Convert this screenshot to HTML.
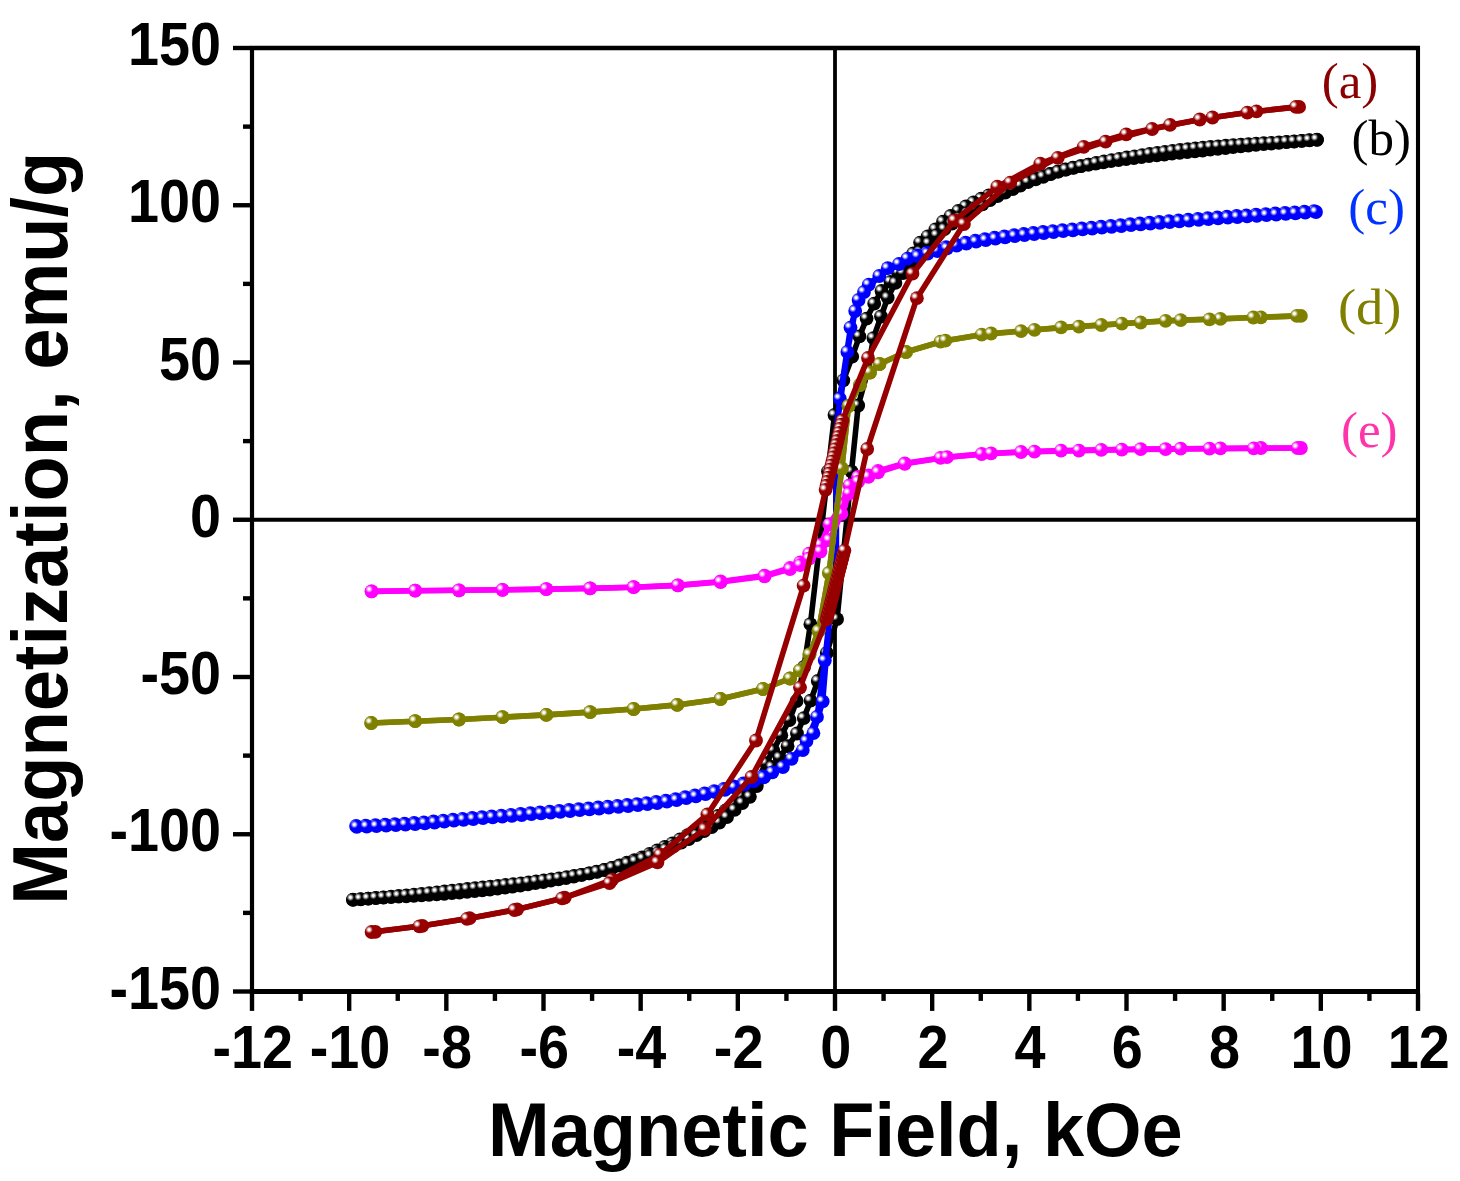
<!DOCTYPE html>
<html><head><meta charset="utf-8"><title>Magnetization</title>
<style>html,body{margin:0;padding:0;background:#fff}svg{display:block}</style></head>
<body>
<svg width="1460" height="1181" viewBox="0 0 1460 1181">
<defs>
<radialGradient id="gb" cx="0.32" cy="0.33" r="0.27"><stop offset="0" stop-color="#fff"/><stop offset="0.25" stop-color="#fff"/><stop offset="1" stop-color="#000000"/></radialGradient>
<circle id="mb" r="6.9" fill="url(#gb)"/>
<radialGradient id="gc" cx="0.32" cy="0.33" r="0.27"><stop offset="0" stop-color="#fff"/><stop offset="0.25" stop-color="#fff"/><stop offset="1" stop-color="#0000ff"/></radialGradient>
<circle id="mc" r="6.9" fill="url(#gc)"/>
<radialGradient id="gd" cx="0.32" cy="0.33" r="0.27"><stop offset="0" stop-color="#fff"/><stop offset="0.25" stop-color="#fff"/><stop offset="1" stop-color="#808000"/></radialGradient>
<circle id="md" r="6.9" fill="url(#gd)"/>
<radialGradient id="ge" cx="0.32" cy="0.33" r="0.27"><stop offset="0" stop-color="#fff"/><stop offset="0.25" stop-color="#fff"/><stop offset="1" stop-color="#ff00ff"/></radialGradient>
<circle id="me" r="6.9" fill="url(#ge)"/>
<radialGradient id="ga" cx="0.32" cy="0.33" r="0.27"><stop offset="0" stop-color="#fff"/><stop offset="0.25" stop-color="#fff"/><stop offset="1" stop-color="#960000"/></radialGradient>
<circle id="ma" r="6.9" fill="url(#ga)"/>
</defs>
<rect width="1460" height="1181" fill="#fff"/>
<g stroke="#000" stroke-width="3.8" fill="none">
<line x1="835.0" y1="48.0" x2="835.0" y2="991.5"/><line x1="252.0" y1="519.75" x2="1418.0" y2="519.75"/>
</g>
<g id="cb">
<polyline points="1317.1,139.8 1309.5,140.4 1301.8,140.9 1294.2,141.6 1286.6,142.2 1278.9,142.8 1271.3,143.5 1263.7,144.2 1256.0,144.9 1248.4,145.6 1240.8,146.4 1233.1,147.2 1225.5,148.0 1217.8,148.9 1210.2,149.7 1202.6,150.5 1194.9,151.3 1187.3,152.1 1179.7,152.9 1172.0,153.6 1164.4,154.5 1156.8,155.3 1149.1,156.2 1141.5,157.1 1133.9,158.1 1126.2,159.1 1118.6,160.1 1111.0,161.2 1103.3,162.3 1095.7,163.5 1088.1,164.7 1080.4,166.1 1072.8,167.6 1065.2,169.5 1057.5,171.7 1049.9,173.8 1042.3,175.9 1034.6,178.2 1027.0,180.7 1019.4,183.5 1011.7,186.4 1004.1,189.4 996.4,192.4 988.8,195.4 981.2,198.7 973.5,202.3 965.9,206.4 958.3,210.9 950.6,215.9 943.0,221.7 935.4,229.3 927.7,236.3 920.1,242.6 913.2,253.5 905.6,263.0 898.0,272.5 890.4,281.8 881.5,291.0 874.2,303.7 866.6,318.6 859.4,336.4 852.2,356.7 843.3,380.4 834.5,415.0 828.0,471.5 810.4,624.2 804.0,667.0 796.6,701.0 789.5,720.0 781.3,735.2 773.2,750.5 766.0,763.2 757.8,779.0 750.0,787.5 741.2,796.1 733.2,804.2 725.6,810.4 718.0,816.0 710.4,821.3 702.8,826.2 695.2,830.8 687.6,835.2 680.0,839.4 672.4,843.3 664.8,846.9 657.2,850.5 649.6,853.9 642.0,857.3 634.4,860.2 626.8,862.7 619.2,865.3 611.6,867.9 604.0,869.9 596.4,871.6 588.8,873.3 581.2,874.9 573.6,876.5 566.0,878.0 558.4,879.4 550.8,880.7 543.2,882.0 535.5,883.2 527.9,884.4 520.3,885.5 512.7,886.6 505.1,887.6 497.5,888.6 489.9,889.5 482.3,890.3 474.7,891.1 467.1,891.9 459.5,892.6 451.9,893.2 444.3,893.8 436.7,894.4 429.1,894.9 421.5,895.4 413.9,895.9 406.3,896.3 398.7,896.7 391.1,897.1 383.5,897.6 375.9,898.1 368.3,898.7 360.7,899.3 353.1,899.9" fill="none" stroke="#000000" stroke-width="5.6" stroke-linejoin="round" stroke-linecap="round"/>
<polyline points="352.9,899.7 360.5,899.1 368.2,898.6 375.8,897.9 383.4,897.3 391.1,896.7 398.7,896.0 406.3,895.3 414.0,894.6 421.6,893.9 429.2,893.1 436.9,892.3 444.5,891.5 452.1,890.6 459.8,889.8 467.4,889.0 475.1,888.2 482.7,887.4 490.3,886.6 498.0,885.9 505.6,885.0 513.2,884.2 520.9,883.3 528.5,882.4 536.1,881.4 543.8,880.4 551.4,879.4 559.0,878.3 566.7,877.2 574.3,876.0 581.9,874.8 589.6,873.4 597.2,871.9 604.8,870.0 612.5,867.8 620.1,865.7 627.7,863.6 635.4,861.3 643.0,858.7 650.6,855.9 658.3,852.8 665.9,849.5 673.6,846.2 681.2,842.7 688.8,839.1 696.5,835.2 704.1,831.2 711.7,827.1 719.4,822.5 727.0,817.2 734.6,809.9 742.3,803.0 749.9,796.8 756.8,786.0 764.4,776.5 772.0,767.0 779.6,757.7 787.6,746.2 797.0,733.5 803.8,718.1 810.6,700.7 817.8,681.0 826.8,653.0 837.1,619.1 851.5,471.5 858.2,405.5 867.8,371.0 873.4,338.1 881.0,316.5 887.7,297.7 895.4,282.9 903.0,273.0 911.5,262.0 920.0,252.0 928.8,243.4 936.8,235.3 944.4,229.1 952.0,223.5 959.6,218.2 967.2,213.3 974.8,208.7 982.4,204.3 990.0,200.1 997.6,196.2 1005.2,192.6 1012.8,189.0 1020.4,185.6 1028.0,182.2 1035.6,179.3 1043.2,176.8 1050.8,174.2 1058.4,171.6 1066.0,169.6 1073.6,167.9 1081.2,166.2 1088.8,164.6 1096.4,163.0 1104.0,161.5 1111.6,160.1 1119.2,158.8 1126.8,157.5 1134.5,156.3 1142.1,155.1 1149.7,154.0 1157.3,152.9 1164.9,151.9 1172.5,150.9 1180.1,150.0 1187.7,149.2 1195.3,148.4 1202.9,147.6 1210.5,146.9 1218.1,146.3 1225.7,145.7 1233.3,145.1 1240.9,144.6 1248.5,144.1 1256.1,143.6 1263.7,143.2 1271.3,142.8 1278.9,142.4 1286.5,141.9 1294.1,141.4 1301.7,140.8 1309.3,140.2 1316.9,139.6" fill="none" stroke="#000000" stroke-width="5.6" stroke-linejoin="round" stroke-linecap="round"/>
<use href="#mb" x="1317.1" y="139.8"/>
<use href="#mb" x="1309.5" y="140.4"/>
<use href="#mb" x="1301.8" y="140.9"/>
<use href="#mb" x="1294.2" y="141.6"/>
<use href="#mb" x="1286.6" y="142.2"/>
<use href="#mb" x="1278.9" y="142.8"/>
<use href="#mb" x="1271.3" y="143.5"/>
<use href="#mb" x="1263.7" y="144.2"/>
<use href="#mb" x="1256.0" y="144.9"/>
<use href="#mb" x="1248.4" y="145.6"/>
<use href="#mb" x="1240.8" y="146.4"/>
<use href="#mb" x="1233.1" y="147.2"/>
<use href="#mb" x="1225.5" y="148.0"/>
<use href="#mb" x="1217.8" y="148.9"/>
<use href="#mb" x="1210.2" y="149.7"/>
<use href="#mb" x="1202.6" y="150.5"/>
<use href="#mb" x="1194.9" y="151.3"/>
<use href="#mb" x="1187.3" y="152.1"/>
<use href="#mb" x="1179.7" y="152.9"/>
<use href="#mb" x="1172.0" y="153.6"/>
<use href="#mb" x="1164.4" y="154.5"/>
<use href="#mb" x="1156.8" y="155.3"/>
<use href="#mb" x="1149.1" y="156.2"/>
<use href="#mb" x="1141.5" y="157.1"/>
<use href="#mb" x="1133.9" y="158.1"/>
<use href="#mb" x="1126.2" y="159.1"/>
<use href="#mb" x="1118.6" y="160.1"/>
<use href="#mb" x="1111.0" y="161.2"/>
<use href="#mb" x="1103.3" y="162.3"/>
<use href="#mb" x="1095.7" y="163.5"/>
<use href="#mb" x="1088.1" y="164.7"/>
<use href="#mb" x="1080.4" y="166.1"/>
<use href="#mb" x="1072.8" y="167.6"/>
<use href="#mb" x="1065.2" y="169.5"/>
<use href="#mb" x="1057.5" y="171.7"/>
<use href="#mb" x="1049.9" y="173.8"/>
<use href="#mb" x="1042.3" y="175.9"/>
<use href="#mb" x="1034.6" y="178.2"/>
<use href="#mb" x="1027.0" y="180.7"/>
<use href="#mb" x="1019.4" y="183.5"/>
<use href="#mb" x="1011.7" y="186.4"/>
<use href="#mb" x="1004.1" y="189.4"/>
<use href="#mb" x="996.4" y="192.4"/>
<use href="#mb" x="988.8" y="195.4"/>
<use href="#mb" x="981.2" y="198.7"/>
<use href="#mb" x="973.5" y="202.3"/>
<use href="#mb" x="965.9" y="206.4"/>
<use href="#mb" x="958.3" y="210.9"/>
<use href="#mb" x="950.6" y="215.9"/>
<use href="#mb" x="943.0" y="221.7"/>
<use href="#mb" x="935.4" y="229.3"/>
<use href="#mb" x="927.7" y="236.3"/>
<use href="#mb" x="920.1" y="242.6"/>
<use href="#mb" x="913.2" y="253.5"/>
<use href="#mb" x="905.6" y="263.0"/>
<use href="#mb" x="898.0" y="272.5"/>
<use href="#mb" x="890.4" y="281.8"/>
<use href="#mb" x="881.5" y="291.0"/>
<use href="#mb" x="874.2" y="303.7"/>
<use href="#mb" x="866.6" y="318.6"/>
<use href="#mb" x="859.4" y="336.4"/>
<use href="#mb" x="852.2" y="356.7"/>
<use href="#mb" x="843.3" y="380.4"/>
<use href="#mb" x="834.5" y="415.0"/>
<use href="#mb" x="828.0" y="471.5"/>
<use href="#mb" x="810.4" y="624.2"/>
<use href="#mb" x="804.0" y="667.0"/>
<use href="#mb" x="796.6" y="701.0"/>
<use href="#mb" x="789.5" y="720.0"/>
<use href="#mb" x="781.3" y="735.2"/>
<use href="#mb" x="773.2" y="750.5"/>
<use href="#mb" x="766.0" y="763.2"/>
<use href="#mb" x="757.8" y="779.0"/>
<use href="#mb" x="750.0" y="787.5"/>
<use href="#mb" x="741.2" y="796.1"/>
<use href="#mb" x="733.2" y="804.2"/>
<use href="#mb" x="725.6" y="810.4"/>
<use href="#mb" x="718.0" y="816.0"/>
<use href="#mb" x="710.4" y="821.3"/>
<use href="#mb" x="702.8" y="826.2"/>
<use href="#mb" x="695.2" y="830.8"/>
<use href="#mb" x="687.6" y="835.2"/>
<use href="#mb" x="680.0" y="839.4"/>
<use href="#mb" x="672.4" y="843.3"/>
<use href="#mb" x="664.8" y="846.9"/>
<use href="#mb" x="657.2" y="850.5"/>
<use href="#mb" x="649.6" y="853.9"/>
<use href="#mb" x="642.0" y="857.3"/>
<use href="#mb" x="634.4" y="860.2"/>
<use href="#mb" x="626.8" y="862.7"/>
<use href="#mb" x="619.2" y="865.3"/>
<use href="#mb" x="611.6" y="867.9"/>
<use href="#mb" x="604.0" y="869.9"/>
<use href="#mb" x="596.4" y="871.6"/>
<use href="#mb" x="588.8" y="873.3"/>
<use href="#mb" x="581.2" y="874.9"/>
<use href="#mb" x="573.6" y="876.5"/>
<use href="#mb" x="566.0" y="878.0"/>
<use href="#mb" x="558.4" y="879.4"/>
<use href="#mb" x="550.8" y="880.7"/>
<use href="#mb" x="543.2" y="882.0"/>
<use href="#mb" x="535.5" y="883.2"/>
<use href="#mb" x="527.9" y="884.4"/>
<use href="#mb" x="520.3" y="885.5"/>
<use href="#mb" x="512.7" y="886.6"/>
<use href="#mb" x="505.1" y="887.6"/>
<use href="#mb" x="497.5" y="888.6"/>
<use href="#mb" x="489.9" y="889.5"/>
<use href="#mb" x="482.3" y="890.3"/>
<use href="#mb" x="474.7" y="891.1"/>
<use href="#mb" x="467.1" y="891.9"/>
<use href="#mb" x="459.5" y="892.6"/>
<use href="#mb" x="451.9" y="893.2"/>
<use href="#mb" x="444.3" y="893.8"/>
<use href="#mb" x="436.7" y="894.4"/>
<use href="#mb" x="429.1" y="894.9"/>
<use href="#mb" x="421.5" y="895.4"/>
<use href="#mb" x="413.9" y="895.9"/>
<use href="#mb" x="406.3" y="896.3"/>
<use href="#mb" x="398.7" y="896.7"/>
<use href="#mb" x="391.1" y="897.1"/>
<use href="#mb" x="383.5" y="897.6"/>
<use href="#mb" x="375.9" y="898.1"/>
<use href="#mb" x="368.3" y="898.7"/>
<use href="#mb" x="360.7" y="899.3"/>
<use href="#mb" x="353.1" y="899.9"/>
<use href="#mb" x="352.9" y="899.7"/>
<use href="#mb" x="360.5" y="899.1"/>
<use href="#mb" x="368.2" y="898.6"/>
<use href="#mb" x="375.8" y="897.9"/>
<use href="#mb" x="383.4" y="897.3"/>
<use href="#mb" x="391.1" y="896.7"/>
<use href="#mb" x="398.7" y="896.0"/>
<use href="#mb" x="406.3" y="895.3"/>
<use href="#mb" x="414.0" y="894.6"/>
<use href="#mb" x="421.6" y="893.9"/>
<use href="#mb" x="429.2" y="893.1"/>
<use href="#mb" x="436.9" y="892.3"/>
<use href="#mb" x="444.5" y="891.5"/>
<use href="#mb" x="452.1" y="890.6"/>
<use href="#mb" x="459.8" y="889.8"/>
<use href="#mb" x="467.4" y="889.0"/>
<use href="#mb" x="475.1" y="888.2"/>
<use href="#mb" x="482.7" y="887.4"/>
<use href="#mb" x="490.3" y="886.6"/>
<use href="#mb" x="498.0" y="885.9"/>
<use href="#mb" x="505.6" y="885.0"/>
<use href="#mb" x="513.2" y="884.2"/>
<use href="#mb" x="520.9" y="883.3"/>
<use href="#mb" x="528.5" y="882.4"/>
<use href="#mb" x="536.1" y="881.4"/>
<use href="#mb" x="543.8" y="880.4"/>
<use href="#mb" x="551.4" y="879.4"/>
<use href="#mb" x="559.0" y="878.3"/>
<use href="#mb" x="566.7" y="877.2"/>
<use href="#mb" x="574.3" y="876.0"/>
<use href="#mb" x="581.9" y="874.8"/>
<use href="#mb" x="589.6" y="873.4"/>
<use href="#mb" x="597.2" y="871.9"/>
<use href="#mb" x="604.8" y="870.0"/>
<use href="#mb" x="612.5" y="867.8"/>
<use href="#mb" x="620.1" y="865.7"/>
<use href="#mb" x="627.7" y="863.6"/>
<use href="#mb" x="635.4" y="861.3"/>
<use href="#mb" x="643.0" y="858.7"/>
<use href="#mb" x="650.6" y="855.9"/>
<use href="#mb" x="658.3" y="852.8"/>
<use href="#mb" x="665.9" y="849.5"/>
<use href="#mb" x="673.6" y="846.2"/>
<use href="#mb" x="681.2" y="842.7"/>
<use href="#mb" x="688.8" y="839.1"/>
<use href="#mb" x="696.5" y="835.2"/>
<use href="#mb" x="704.1" y="831.2"/>
<use href="#mb" x="711.7" y="827.1"/>
<use href="#mb" x="719.4" y="822.5"/>
<use href="#mb" x="727.0" y="817.2"/>
<use href="#mb" x="734.6" y="809.9"/>
<use href="#mb" x="742.3" y="803.0"/>
<use href="#mb" x="749.9" y="796.8"/>
<use href="#mb" x="756.8" y="786.0"/>
<use href="#mb" x="764.4" y="776.5"/>
<use href="#mb" x="772.0" y="767.0"/>
<use href="#mb" x="779.6" y="757.7"/>
<use href="#mb" x="787.6" y="746.2"/>
<use href="#mb" x="797.0" y="733.5"/>
<use href="#mb" x="803.8" y="718.1"/>
<use href="#mb" x="810.6" y="700.7"/>
<use href="#mb" x="817.8" y="681.0"/>
<use href="#mb" x="826.8" y="653.0"/>
<use href="#mb" x="837.1" y="619.1"/>
<use href="#mb" x="851.5" y="471.5"/>
<use href="#mb" x="858.2" y="405.5"/>
<use href="#mb" x="867.8" y="371.0"/>
<use href="#mb" x="873.4" y="338.1"/>
<use href="#mb" x="881.0" y="316.5"/>
<use href="#mb" x="887.7" y="297.7"/>
<use href="#mb" x="895.4" y="282.9"/>
<use href="#mb" x="903.0" y="273.0"/>
<use href="#mb" x="911.5" y="262.0"/>
<use href="#mb" x="920.0" y="252.0"/>
<use href="#mb" x="928.8" y="243.4"/>
<use href="#mb" x="936.8" y="235.3"/>
<use href="#mb" x="944.4" y="229.1"/>
<use href="#mb" x="952.0" y="223.5"/>
<use href="#mb" x="959.6" y="218.2"/>
<use href="#mb" x="967.2" y="213.3"/>
<use href="#mb" x="974.8" y="208.7"/>
<use href="#mb" x="982.4" y="204.3"/>
<use href="#mb" x="990.0" y="200.1"/>
<use href="#mb" x="997.6" y="196.2"/>
<use href="#mb" x="1005.2" y="192.6"/>
<use href="#mb" x="1012.8" y="189.0"/>
<use href="#mb" x="1020.4" y="185.6"/>
<use href="#mb" x="1028.0" y="182.2"/>
<use href="#mb" x="1035.6" y="179.3"/>
<use href="#mb" x="1043.2" y="176.8"/>
<use href="#mb" x="1050.8" y="174.2"/>
<use href="#mb" x="1058.4" y="171.6"/>
<use href="#mb" x="1066.0" y="169.6"/>
<use href="#mb" x="1073.6" y="167.9"/>
<use href="#mb" x="1081.2" y="166.2"/>
<use href="#mb" x="1088.8" y="164.6"/>
<use href="#mb" x="1096.4" y="163.0"/>
<use href="#mb" x="1104.0" y="161.5"/>
<use href="#mb" x="1111.6" y="160.1"/>
<use href="#mb" x="1119.2" y="158.8"/>
<use href="#mb" x="1126.8" y="157.5"/>
<use href="#mb" x="1134.5" y="156.3"/>
<use href="#mb" x="1142.1" y="155.1"/>
<use href="#mb" x="1149.7" y="154.0"/>
<use href="#mb" x="1157.3" y="152.9"/>
<use href="#mb" x="1164.9" y="151.9"/>
<use href="#mb" x="1172.5" y="150.9"/>
<use href="#mb" x="1180.1" y="150.0"/>
<use href="#mb" x="1187.7" y="149.2"/>
<use href="#mb" x="1195.3" y="148.4"/>
<use href="#mb" x="1202.9" y="147.6"/>
<use href="#mb" x="1210.5" y="146.9"/>
<use href="#mb" x="1218.1" y="146.3"/>
<use href="#mb" x="1225.7" y="145.7"/>
<use href="#mb" x="1233.3" y="145.1"/>
<use href="#mb" x="1240.9" y="144.6"/>
<use href="#mb" x="1248.5" y="144.1"/>
<use href="#mb" x="1256.1" y="143.6"/>
<use href="#mb" x="1263.7" y="143.2"/>
<use href="#mb" x="1271.3" y="142.8"/>
<use href="#mb" x="1278.9" y="142.4"/>
<use href="#mb" x="1286.5" y="141.9"/>
<use href="#mb" x="1294.1" y="141.4"/>
<use href="#mb" x="1301.7" y="140.8"/>
<use href="#mb" x="1309.3" y="140.2"/>
<use href="#mb" x="1316.9" y="139.6"/>
</g>
<g id="cc">
<polyline points="1314.1,211.1 1304.4,211.7 1294.7,212.3 1285.0,212.9 1275.3,213.5 1265.7,214.1 1256.0,214.7 1246.3,215.4 1236.6,216.0 1226.9,216.7 1217.3,217.4 1207.6,218.1 1197.9,218.8 1188.2,219.6 1178.5,220.3 1168.9,221.1 1159.2,221.8 1149.5,222.6 1139.8,223.4 1130.1,224.2 1120.5,225.1 1110.8,225.9 1101.1,226.7 1091.4,227.6 1081.7,228.4 1072.1,229.3 1062.4,230.2 1052.7,231.1 1043.0,232.0 1033.3,232.9 1023.7,233.9 1014.0,235.1 1004.3,236.3 994.6,237.7 984.9,239.1 975.3,240.7 965.6,242.6 955.9,244.7 946.2,247.2 936.5,249.9 926.9,252.6 917.2,255.3 907.5,258.6 887.8,268.2 868.8,284.7 858.6,300.0 850.5,327.6 839.8,398.7 836.3,430.0 836.3,585.0 829.5,618.0 824.8,660.5 817.0,716.9 806.5,741.0 791.6,758.8 772.3,772.3 762.6,776.4 752.9,780.1 743.3,783.5 733.6,786.5 723.9,788.9 714.2,791.1 704.5,793.3 694.9,795.3 685.2,797.2 675.5,799.1 665.8,800.7 656.1,802.0 646.5,803.1 636.8,804.1 627.1,805.0 617.4,805.8 607.7,806.6 598.1,807.5 588.4,808.4 578.7,809.2 569.0,810.0 559.3,810.9 549.7,811.7 540.0,812.4 530.3,813.2 520.6,814.0 510.9,814.8 501.3,815.6 491.6,816.4 481.9,817.2 472.2,818.0 462.5,818.8 452.9,819.7 443.2,820.6 433.5,821.5 423.8,822.3 414.1,823.0 404.5,823.6 394.8,824.2 385.1,824.7 375.4,825.2 365.7,825.6 356.1,825.9" fill="none" stroke="#0000ff" stroke-width="5.6" stroke-linejoin="round" stroke-linecap="round"/>
<polyline points="356.8,826.9 366.8,826.6 376.5,826.2 386.2,825.7 395.9,825.2 405.5,824.6 415.2,824.0 424.9,823.3 434.6,822.5 444.3,821.6 453.9,820.7 463.6,819.8 473.3,819.0 483.0,818.2 492.7,817.4 502.3,816.6 512.0,815.8 521.7,815.0 531.4,814.2 541.1,813.4 550.7,812.6 560.4,811.8 570.1,811.0 579.8,810.2 589.5,809.4 599.1,808.5 608.8,807.6 618.5,806.8 628.2,806.0 637.9,805.0 647.5,804.1 657.2,803.0 666.9,801.7 676.6,800.1 686.3,798.2 695.9,796.3 705.6,794.2 715.3,792.1 725.0,789.9 734.7,787.5 744.3,784.5 754.0,781.1 763.7,777.4 782.9,767.0 802.8,750.1 813.4,733.2 822.7,701.4 829.5,618.0 836.3,585.0 836.3,430.0 847.4,351.9 855.2,311.0 864.0,292.0 879.3,276.0 899.0,264.0 918.0,256.4 927.7,253.6 937.4,251.0 947.0,248.3 956.7,245.7 966.4,243.6 976.1,241.7 985.8,240.1 995.4,238.7 1005.1,237.3 1014.8,236.1 1024.5,235.0 1034.2,234.0 1043.8,233.0 1053.5,232.1 1063.2,231.2 1072.9,230.3 1082.6,229.4 1092.2,228.6 1101.9,227.7 1111.6,226.9 1121.3,226.1 1131.0,225.2 1140.6,224.4 1150.3,223.6 1160.0,222.8 1169.7,222.1 1179.4,221.3 1189.0,220.6 1198.7,219.8 1208.4,219.1 1218.1,218.4 1227.8,217.7 1237.4,217.0 1247.1,216.4 1256.8,215.8 1266.5,215.1 1276.2,214.5 1285.8,213.9 1295.5,213.3 1305.2,212.7 1316.0,212.0" fill="none" stroke="#0000ff" stroke-width="5.6" stroke-linejoin="round" stroke-linecap="round"/>
<use href="#mc" x="1314.1" y="211.1"/>
<use href="#mc" x="1304.4" y="211.7"/>
<use href="#mc" x="1294.7" y="212.3"/>
<use href="#mc" x="1285.0" y="212.9"/>
<use href="#mc" x="1275.3" y="213.5"/>
<use href="#mc" x="1265.7" y="214.1"/>
<use href="#mc" x="1256.0" y="214.7"/>
<use href="#mc" x="1246.3" y="215.4"/>
<use href="#mc" x="1236.6" y="216.0"/>
<use href="#mc" x="1226.9" y="216.7"/>
<use href="#mc" x="1217.3" y="217.4"/>
<use href="#mc" x="1207.6" y="218.1"/>
<use href="#mc" x="1197.9" y="218.8"/>
<use href="#mc" x="1188.2" y="219.6"/>
<use href="#mc" x="1178.5" y="220.3"/>
<use href="#mc" x="1168.9" y="221.1"/>
<use href="#mc" x="1159.2" y="221.8"/>
<use href="#mc" x="1149.5" y="222.6"/>
<use href="#mc" x="1139.8" y="223.4"/>
<use href="#mc" x="1130.1" y="224.2"/>
<use href="#mc" x="1120.5" y="225.1"/>
<use href="#mc" x="1110.8" y="225.9"/>
<use href="#mc" x="1101.1" y="226.7"/>
<use href="#mc" x="1091.4" y="227.6"/>
<use href="#mc" x="1081.7" y="228.4"/>
<use href="#mc" x="1072.1" y="229.3"/>
<use href="#mc" x="1062.4" y="230.2"/>
<use href="#mc" x="1052.7" y="231.1"/>
<use href="#mc" x="1043.0" y="232.0"/>
<use href="#mc" x="1033.3" y="232.9"/>
<use href="#mc" x="1023.7" y="233.9"/>
<use href="#mc" x="1014.0" y="235.1"/>
<use href="#mc" x="1004.3" y="236.3"/>
<use href="#mc" x="994.6" y="237.7"/>
<use href="#mc" x="984.9" y="239.1"/>
<use href="#mc" x="975.3" y="240.7"/>
<use href="#mc" x="965.6" y="242.6"/>
<use href="#mc" x="955.9" y="244.7"/>
<use href="#mc" x="946.2" y="247.2"/>
<use href="#mc" x="936.5" y="249.9"/>
<use href="#mc" x="926.9" y="252.6"/>
<use href="#mc" x="917.2" y="255.3"/>
<use href="#mc" x="907.5" y="258.6"/>
<use href="#mc" x="887.8" y="268.2"/>
<use href="#mc" x="868.8" y="284.7"/>
<use href="#mc" x="858.6" y="300.0"/>
<use href="#mc" x="850.5" y="327.6"/>
<use href="#mc" x="839.8" y="398.7"/>
<use href="#mc" x="824.8" y="660.5"/>
<use href="#mc" x="817.0" y="716.9"/>
<use href="#mc" x="806.5" y="741.0"/>
<use href="#mc" x="791.6" y="758.8"/>
<use href="#mc" x="772.3" y="772.3"/>
<use href="#mc" x="762.6" y="776.4"/>
<use href="#mc" x="752.9" y="780.1"/>
<use href="#mc" x="743.3" y="783.5"/>
<use href="#mc" x="733.6" y="786.5"/>
<use href="#mc" x="723.9" y="788.9"/>
<use href="#mc" x="714.2" y="791.1"/>
<use href="#mc" x="704.5" y="793.3"/>
<use href="#mc" x="694.9" y="795.3"/>
<use href="#mc" x="685.2" y="797.2"/>
<use href="#mc" x="675.5" y="799.1"/>
<use href="#mc" x="665.8" y="800.7"/>
<use href="#mc" x="656.1" y="802.0"/>
<use href="#mc" x="646.5" y="803.1"/>
<use href="#mc" x="636.8" y="804.1"/>
<use href="#mc" x="627.1" y="805.0"/>
<use href="#mc" x="617.4" y="805.8"/>
<use href="#mc" x="607.7" y="806.6"/>
<use href="#mc" x="598.1" y="807.5"/>
<use href="#mc" x="588.4" y="808.4"/>
<use href="#mc" x="578.7" y="809.2"/>
<use href="#mc" x="569.0" y="810.0"/>
<use href="#mc" x="559.3" y="810.9"/>
<use href="#mc" x="549.7" y="811.7"/>
<use href="#mc" x="540.0" y="812.4"/>
<use href="#mc" x="530.3" y="813.2"/>
<use href="#mc" x="520.6" y="814.0"/>
<use href="#mc" x="510.9" y="814.8"/>
<use href="#mc" x="501.3" y="815.6"/>
<use href="#mc" x="491.6" y="816.4"/>
<use href="#mc" x="481.9" y="817.2"/>
<use href="#mc" x="472.2" y="818.0"/>
<use href="#mc" x="462.5" y="818.8"/>
<use href="#mc" x="452.9" y="819.7"/>
<use href="#mc" x="443.2" y="820.6"/>
<use href="#mc" x="433.5" y="821.5"/>
<use href="#mc" x="423.8" y="822.3"/>
<use href="#mc" x="414.1" y="823.0"/>
<use href="#mc" x="404.5" y="823.6"/>
<use href="#mc" x="394.8" y="824.2"/>
<use href="#mc" x="385.1" y="824.7"/>
<use href="#mc" x="375.4" y="825.2"/>
<use href="#mc" x="365.7" y="825.6"/>
<use href="#mc" x="356.1" y="825.9"/>
<use href="#mc" x="356.8" y="826.9"/>
<use href="#mc" x="366.8" y="826.6"/>
<use href="#mc" x="376.5" y="826.2"/>
<use href="#mc" x="386.2" y="825.7"/>
<use href="#mc" x="395.9" y="825.2"/>
<use href="#mc" x="405.5" y="824.6"/>
<use href="#mc" x="415.2" y="824.0"/>
<use href="#mc" x="424.9" y="823.3"/>
<use href="#mc" x="434.6" y="822.5"/>
<use href="#mc" x="444.3" y="821.6"/>
<use href="#mc" x="453.9" y="820.7"/>
<use href="#mc" x="463.6" y="819.8"/>
<use href="#mc" x="473.3" y="819.0"/>
<use href="#mc" x="483.0" y="818.2"/>
<use href="#mc" x="492.7" y="817.4"/>
<use href="#mc" x="502.3" y="816.6"/>
<use href="#mc" x="512.0" y="815.8"/>
<use href="#mc" x="521.7" y="815.0"/>
<use href="#mc" x="531.4" y="814.2"/>
<use href="#mc" x="541.1" y="813.4"/>
<use href="#mc" x="550.7" y="812.6"/>
<use href="#mc" x="560.4" y="811.8"/>
<use href="#mc" x="570.1" y="811.0"/>
<use href="#mc" x="579.8" y="810.2"/>
<use href="#mc" x="589.5" y="809.4"/>
<use href="#mc" x="599.1" y="808.5"/>
<use href="#mc" x="608.8" y="807.6"/>
<use href="#mc" x="618.5" y="806.8"/>
<use href="#mc" x="628.2" y="806.0"/>
<use href="#mc" x="637.9" y="805.0"/>
<use href="#mc" x="647.5" y="804.1"/>
<use href="#mc" x="657.2" y="803.0"/>
<use href="#mc" x="666.9" y="801.7"/>
<use href="#mc" x="676.6" y="800.1"/>
<use href="#mc" x="686.3" y="798.2"/>
<use href="#mc" x="695.9" y="796.3"/>
<use href="#mc" x="705.6" y="794.2"/>
<use href="#mc" x="715.3" y="792.1"/>
<use href="#mc" x="725.0" y="789.9"/>
<use href="#mc" x="734.7" y="787.5"/>
<use href="#mc" x="744.3" y="784.5"/>
<use href="#mc" x="754.0" y="781.1"/>
<use href="#mc" x="763.7" y="777.4"/>
<use href="#mc" x="782.9" y="767.0"/>
<use href="#mc" x="802.8" y="750.1"/>
<use href="#mc" x="813.4" y="733.2"/>
<use href="#mc" x="822.7" y="701.4"/>
<use href="#mc" x="847.4" y="351.9"/>
<use href="#mc" x="855.2" y="311.0"/>
<use href="#mc" x="864.0" y="292.0"/>
<use href="#mc" x="879.3" y="276.0"/>
<use href="#mc" x="899.0" y="264.0"/>
<use href="#mc" x="918.0" y="256.4"/>
<use href="#mc" x="927.7" y="253.6"/>
<use href="#mc" x="937.4" y="251.0"/>
<use href="#mc" x="947.0" y="248.3"/>
<use href="#mc" x="956.7" y="245.7"/>
<use href="#mc" x="966.4" y="243.6"/>
<use href="#mc" x="976.1" y="241.7"/>
<use href="#mc" x="985.8" y="240.1"/>
<use href="#mc" x="995.4" y="238.7"/>
<use href="#mc" x="1005.1" y="237.3"/>
<use href="#mc" x="1014.8" y="236.1"/>
<use href="#mc" x="1024.5" y="235.0"/>
<use href="#mc" x="1034.2" y="234.0"/>
<use href="#mc" x="1043.8" y="233.0"/>
<use href="#mc" x="1053.5" y="232.1"/>
<use href="#mc" x="1063.2" y="231.2"/>
<use href="#mc" x="1072.9" y="230.3"/>
<use href="#mc" x="1082.6" y="229.4"/>
<use href="#mc" x="1092.2" y="228.6"/>
<use href="#mc" x="1101.9" y="227.7"/>
<use href="#mc" x="1111.6" y="226.9"/>
<use href="#mc" x="1121.3" y="226.1"/>
<use href="#mc" x="1131.0" y="225.2"/>
<use href="#mc" x="1140.6" y="224.4"/>
<use href="#mc" x="1150.3" y="223.6"/>
<use href="#mc" x="1160.0" y="222.8"/>
<use href="#mc" x="1169.7" y="222.1"/>
<use href="#mc" x="1179.4" y="221.3"/>
<use href="#mc" x="1189.0" y="220.6"/>
<use href="#mc" x="1198.7" y="219.8"/>
<use href="#mc" x="1208.4" y="219.1"/>
<use href="#mc" x="1218.1" y="218.4"/>
<use href="#mc" x="1227.8" y="217.7"/>
<use href="#mc" x="1237.4" y="217.0"/>
<use href="#mc" x="1247.1" y="216.4"/>
<use href="#mc" x="1256.8" y="215.8"/>
<use href="#mc" x="1266.5" y="215.1"/>
<use href="#mc" x="1276.2" y="214.5"/>
<use href="#mc" x="1285.8" y="213.9"/>
<use href="#mc" x="1295.5" y="213.3"/>
<use href="#mc" x="1305.2" y="212.7"/>
<use href="#mc" x="1316.0" y="212.0"/>
</g>
<g id="ce">
<polyline points="1300.9,448.0 1260.9,448.0 1220.4,448.4 1180.7,448.7 1140.7,449.1 1101.3,449.9 1061.1,450.6 1021.1,452.0 981.7,454.0 940.5,457.9 904.8,463.3 878.0,471.0 868.5,475.5 858.0,477.0 849.5,485.5 841.5,504.5 829.4,524.4 820.5,544.9 809.1,553.6 800.2,562.5 790.0,568.0 764.6,575.6 720.6,581.5 677.9,585.4 633.6,587.2 590.1,588.4 546.3,589.1 502.5,589.8 459.0,590.3 415.2,590.7 371.6,591.4" fill="none" stroke="#ff00ff" stroke-width="5.6" stroke-linejoin="round" stroke-linecap="round"/>
<polyline points="371.6,591.4 415.2,590.7 459.0,590.3 502.5,589.8 546.3,589.1 590.1,588.4 633.6,587.2 677.9,585.4 720.6,582.0 764.6,576.3 790.0,569.1 800.2,565.1 809.1,558.5 820.5,551.6 829.4,540.1 841.5,513.8 849.2,493.6 858.2,481.7 868.5,476.8 878.0,472.3 904.8,463.8 947.0,457.2 991.1,453.4 1034.5,451.6 1078.9,450.6 1121.8,449.6 1165.6,449.1 1209.5,448.7 1253.8,448.4 1297.7,448.0" fill="none" stroke="#ff00ff" stroke-width="5.6" stroke-linejoin="round" stroke-linecap="round"/>
<use href="#me" x="1300.9" y="448.0"/>
<use href="#me" x="1260.9" y="448.0"/>
<use href="#me" x="1220.4" y="448.4"/>
<use href="#me" x="1180.7" y="448.7"/>
<use href="#me" x="1140.7" y="449.1"/>
<use href="#me" x="1101.3" y="449.9"/>
<use href="#me" x="1061.1" y="450.6"/>
<use href="#me" x="1021.1" y="452.0"/>
<use href="#me" x="981.7" y="454.0"/>
<use href="#me" x="940.5" y="457.9"/>
<use href="#me" x="904.8" y="463.3"/>
<use href="#me" x="878.0" y="471.0"/>
<use href="#me" x="868.5" y="475.5"/>
<use href="#me" x="858.0" y="477.0"/>
<use href="#me" x="849.5" y="485.5"/>
<use href="#me" x="841.5" y="504.5"/>
<use href="#me" x="829.4" y="524.4"/>
<use href="#me" x="820.5" y="544.9"/>
<use href="#me" x="809.1" y="553.6"/>
<use href="#me" x="800.2" y="562.5"/>
<use href="#me" x="790.0" y="568.0"/>
<use href="#me" x="764.6" y="575.6"/>
<use href="#me" x="720.6" y="581.5"/>
<use href="#me" x="677.9" y="585.4"/>
<use href="#me" x="633.6" y="587.2"/>
<use href="#me" x="590.1" y="588.4"/>
<use href="#me" x="546.3" y="589.1"/>
<use href="#me" x="502.5" y="589.8"/>
<use href="#me" x="459.0" y="590.3"/>
<use href="#me" x="415.2" y="590.7"/>
<use href="#me" x="371.6" y="591.4"/>
<use href="#me" x="371.6" y="591.4"/>
<use href="#me" x="415.2" y="590.7"/>
<use href="#me" x="459.0" y="590.3"/>
<use href="#me" x="502.5" y="589.8"/>
<use href="#me" x="546.3" y="589.1"/>
<use href="#me" x="590.1" y="588.4"/>
<use href="#me" x="633.6" y="587.2"/>
<use href="#me" x="677.9" y="585.4"/>
<use href="#me" x="720.6" y="582.0"/>
<use href="#me" x="764.6" y="576.3"/>
<use href="#me" x="790.0" y="569.1"/>
<use href="#me" x="800.2" y="565.1"/>
<use href="#me" x="809.1" y="558.5"/>
<use href="#me" x="820.5" y="551.6"/>
<use href="#me" x="829.4" y="540.1"/>
<use href="#me" x="841.5" y="513.8"/>
<use href="#me" x="849.2" y="493.6"/>
<use href="#me" x="858.2" y="481.7"/>
<use href="#me" x="868.5" y="476.8"/>
<use href="#me" x="878.0" y="472.3"/>
<use href="#me" x="904.8" y="463.8"/>
<use href="#me" x="947.0" y="457.2"/>
<use href="#me" x="991.1" y="453.4"/>
<use href="#me" x="1034.5" y="451.6"/>
<use href="#me" x="1078.9" y="450.6"/>
<use href="#me" x="1121.8" y="449.6"/>
<use href="#me" x="1165.6" y="449.1"/>
<use href="#me" x="1209.5" y="448.7"/>
<use href="#me" x="1253.8" y="448.4"/>
<use href="#me" x="1297.7" y="448.0"/>
</g>
<g id="cd">
<polyline points="1300.9,315.9 1260.9,317.3 1220.4,318.9 1180.7,320.1 1140.7,322.5 1101.3,325.0 1061.1,327.4 1021.1,331.2 981.7,334.6 940.5,341.7 906.0,352.0 879.5,364.0 870.0,372.5 860.0,385.0 848.5,406.0 841.8,468.5 829.0,573.0 818.5,631.0 809.5,654.5 800.0,670.5 790.0,678.5 763.0,689.0 720.5,699.0 677.2,704.9 633.6,709.0 590.1,712.1 546.3,714.9 502.5,717.2 459.0,719.5 415.2,721.2 371.2,723.0" fill="none" stroke="#808000" stroke-width="5.6" stroke-linejoin="round" stroke-linecap="round"/>
<polyline points="371.2,723.0 415.2,721.2 459.0,719.5 502.5,717.2 546.3,714.9 590.1,712.1 633.6,709.0 677.2,704.9 720.5,699.0 763.0,689.0 790.0,678.5 800.0,670.5 809.5,654.5 818.5,631.0 829.0,573.0 841.8,468.5 848.5,406.0 860.0,385.0 870.0,372.5 879.5,364.0 906.0,352.0 945.4,340.6 991.1,333.5 1034.5,329.8 1078.9,326.6 1121.8,323.6 1165.6,320.8 1209.5,319.3 1253.4,317.5 1296.9,315.9" fill="none" stroke="#808000" stroke-width="5.6" stroke-linejoin="round" stroke-linecap="round"/>
<use href="#md" x="1300.9" y="315.9"/>
<use href="#md" x="1260.9" y="317.3"/>
<use href="#md" x="1220.4" y="318.9"/>
<use href="#md" x="1180.7" y="320.1"/>
<use href="#md" x="1140.7" y="322.5"/>
<use href="#md" x="1101.3" y="325.0"/>
<use href="#md" x="1061.1" y="327.4"/>
<use href="#md" x="1021.1" y="331.2"/>
<use href="#md" x="981.7" y="334.6"/>
<use href="#md" x="940.5" y="341.7"/>
<use href="#md" x="906.0" y="352.0"/>
<use href="#md" x="879.5" y="364.0"/>
<use href="#md" x="870.0" y="372.5"/>
<use href="#md" x="860.0" y="385.0"/>
<use href="#md" x="848.5" y="406.0"/>
<use href="#md" x="841.8" y="468.5"/>
<use href="#md" x="829.0" y="573.0"/>
<use href="#md" x="818.5" y="631.0"/>
<use href="#md" x="809.5" y="654.5"/>
<use href="#md" x="800.0" y="670.5"/>
<use href="#md" x="790.0" y="678.5"/>
<use href="#md" x="763.0" y="689.0"/>
<use href="#md" x="720.5" y="699.0"/>
<use href="#md" x="677.2" y="704.9"/>
<use href="#md" x="633.6" y="709.0"/>
<use href="#md" x="590.1" y="712.1"/>
<use href="#md" x="546.3" y="714.9"/>
<use href="#md" x="502.5" y="717.2"/>
<use href="#md" x="459.0" y="719.5"/>
<use href="#md" x="415.2" y="721.2"/>
<use href="#md" x="371.2" y="723.0"/>
<use href="#md" x="371.2" y="723.0"/>
<use href="#md" x="415.2" y="721.2"/>
<use href="#md" x="459.0" y="719.5"/>
<use href="#md" x="502.5" y="717.2"/>
<use href="#md" x="546.3" y="714.9"/>
<use href="#md" x="590.1" y="712.1"/>
<use href="#md" x="633.6" y="709.0"/>
<use href="#md" x="677.2" y="704.9"/>
<use href="#md" x="720.5" y="699.0"/>
<use href="#md" x="763.0" y="689.0"/>
<use href="#md" x="790.0" y="678.5"/>
<use href="#md" x="800.0" y="670.5"/>
<use href="#md" x="809.5" y="654.5"/>
<use href="#md" x="818.5" y="631.0"/>
<use href="#md" x="829.0" y="573.0"/>
<use href="#md" x="841.8" y="468.5"/>
<use href="#md" x="848.5" y="406.0"/>
<use href="#md" x="860.0" y="385.0"/>
<use href="#md" x="870.0" y="372.5"/>
<use href="#md" x="879.5" y="364.0"/>
<use href="#md" x="906.0" y="352.0"/>
<use href="#md" x="945.4" y="340.6"/>
<use href="#md" x="991.1" y="333.5"/>
<use href="#md" x="1034.5" y="329.8"/>
<use href="#md" x="1078.9" y="326.6"/>
<use href="#md" x="1121.8" y="323.6"/>
<use href="#md" x="1165.6" y="320.8"/>
<use href="#md" x="1209.5" y="319.3"/>
<use href="#md" x="1253.4" y="317.5"/>
<use href="#md" x="1296.9" y="315.9"/>
</g>
<g id="ca">
<polyline points="1299.1,106.9 1256.5,111.3 1212.5,117.5 1170.0,124.9 1126.2,134.3 1083.7,146.8 1040.3,163.6 997.3,186.7 954.5,220.4 912.5,273.7 868.0,358.0 842.4,420.6 841.4,424.7 840.4,428.7 839.4,432.8 838.4,436.9 837.5,441.0 836.5,445.0 835.5,449.1 834.5,453.2 833.5,457.2 832.5,461.3 831.5,465.4 830.5,469.4 829.6,473.5 828.6,477.6 827.6,481.7 826.6,485.7 825.6,489.8 803.6,585.6 756.0,740.5 707.4,814.5 660.1,854.7 612.2,879.6 564.7,897.7 517.1,909.4 469.6,918.2 422.4,925.8 375.4,931.8" fill="none" stroke="#960000" stroke-width="5.6" stroke-linejoin="round" stroke-linecap="round"/>
<polyline points="371.6,932.0 419.4,926.3 467.0,918.8 514.5,910.0 562.1,898.4 609.5,883.2 657.4,862.4 704.7,829.2 751.5,777.0 800.0,687.6 826.5,619.3 827.6,615.3 828.6,611.2 829.7,607.2 830.7,603.1 831.8,599.1 832.8,595.1 833.9,591.0 834.9,587.0 836.0,582.9 837.0,578.9 838.1,574.8 839.1,570.8 840.2,566.8 841.2,562.7 842.3,558.7 843.3,554.6 844.4,550.6 867.2,449.0 916.9,298.2 963.9,224.0 1010.3,182.6 1057.8,157.8 1105.6,141.7 1152.1,129.0 1199.8,119.5 1247.3,112.6 1296.0,106.9" fill="none" stroke="#960000" stroke-width="5.6" stroke-linejoin="round" stroke-linecap="round"/>
<use href="#ma" x="1299.1" y="106.9"/>
<use href="#ma" x="1256.5" y="111.3"/>
<use href="#ma" x="1212.5" y="117.5"/>
<use href="#ma" x="1170.0" y="124.9"/>
<use href="#ma" x="1126.2" y="134.3"/>
<use href="#ma" x="1083.7" y="146.8"/>
<use href="#ma" x="1040.3" y="163.6"/>
<use href="#ma" x="997.3" y="186.7"/>
<use href="#ma" x="954.5" y="220.4"/>
<use href="#ma" x="912.5" y="273.7"/>
<use href="#ma" x="868.0" y="358.0"/>
<use href="#ma" x="842.4" y="420.6"/>
<use href="#ma" x="841.4" y="424.7"/>
<use href="#ma" x="840.4" y="428.7"/>
<use href="#ma" x="839.4" y="432.8"/>
<use href="#ma" x="838.4" y="436.9"/>
<use href="#ma" x="837.5" y="441.0"/>
<use href="#ma" x="836.5" y="445.0"/>
<use href="#ma" x="835.5" y="449.1"/>
<use href="#ma" x="834.5" y="453.2"/>
<use href="#ma" x="833.5" y="457.2"/>
<use href="#ma" x="832.5" y="461.3"/>
<use href="#ma" x="831.5" y="465.4"/>
<use href="#ma" x="830.5" y="469.4"/>
<use href="#ma" x="829.6" y="473.5"/>
<use href="#ma" x="828.6" y="477.6"/>
<use href="#ma" x="827.6" y="481.7"/>
<use href="#ma" x="826.6" y="485.7"/>
<use href="#ma" x="825.6" y="489.8"/>
<use href="#ma" x="803.6" y="585.6"/>
<use href="#ma" x="756.0" y="740.5"/>
<use href="#ma" x="707.4" y="814.5"/>
<use href="#ma" x="660.1" y="854.7"/>
<use href="#ma" x="612.2" y="879.6"/>
<use href="#ma" x="564.7" y="897.7"/>
<use href="#ma" x="517.1" y="909.4"/>
<use href="#ma" x="469.6" y="918.2"/>
<use href="#ma" x="422.4" y="925.8"/>
<use href="#ma" x="375.4" y="931.8"/>
<use href="#ma" x="371.6" y="932.0"/>
<use href="#ma" x="419.4" y="926.3"/>
<use href="#ma" x="467.0" y="918.8"/>
<use href="#ma" x="514.5" y="910.0"/>
<use href="#ma" x="562.1" y="898.4"/>
<use href="#ma" x="609.5" y="883.2"/>
<use href="#ma" x="657.4" y="862.4"/>
<use href="#ma" x="704.7" y="829.2"/>
<use href="#ma" x="751.5" y="777.0"/>
<use href="#ma" x="800.0" y="687.6"/>
<use href="#ma" x="826.5" y="619.3"/>
<use href="#ma" x="827.6" y="615.3"/>
<use href="#ma" x="828.6" y="611.2"/>
<use href="#ma" x="829.7" y="607.2"/>
<use href="#ma" x="830.7" y="603.1"/>
<use href="#ma" x="831.8" y="599.1"/>
<use href="#ma" x="832.8" y="595.1"/>
<use href="#ma" x="833.9" y="591.0"/>
<use href="#ma" x="834.9" y="587.0"/>
<use href="#ma" x="836.0" y="582.9"/>
<use href="#ma" x="837.0" y="578.9"/>
<use href="#ma" x="838.1" y="574.8"/>
<use href="#ma" x="839.1" y="570.8"/>
<use href="#ma" x="840.2" y="566.8"/>
<use href="#ma" x="841.2" y="562.7"/>
<use href="#ma" x="842.3" y="558.7"/>
<use href="#ma" x="843.3" y="554.6"/>
<use href="#ma" x="844.4" y="550.6"/>
<use href="#ma" x="867.2" y="449.0"/>
<use href="#ma" x="916.9" y="298.2"/>
<use href="#ma" x="963.9" y="224.0"/>
<use href="#ma" x="1010.3" y="182.6"/>
<use href="#ma" x="1057.8" y="157.8"/>
<use href="#ma" x="1105.6" y="141.7"/>
<use href="#ma" x="1152.1" y="129.0"/>
<use href="#ma" x="1199.8" y="119.5"/>
<use href="#ma" x="1247.3" y="112.6"/>
<use href="#ma" x="1296.0" y="106.9"/>
</g>
<g stroke="#000" fill="none" stroke-linecap="butt">
<line x1="249.9" y1="48" x2="1420.0" y2="48" stroke-width="4.3"/>
<line x1="249.9" y1="991.4" x2="1420.0" y2="991.4" stroke-width="5"/>
<line x1="252" y1="46" x2="252" y2="993.9" stroke-width="4.2"/>
<line x1="1418" y1="46" x2="1418" y2="993.9" stroke-width="4.1"/>
<g stroke-width="4.4">
<line x1="252.00" y1="993.5" x2="252.00" y2="1010.9"/>
<line x1="300.58" y1="993.5" x2="300.58" y2="1000.9"/>
<line x1="349.17" y1="993.5" x2="349.17" y2="1010.9"/>
<line x1="397.75" y1="993.5" x2="397.75" y2="1000.9"/>
<line x1="446.33" y1="993.5" x2="446.33" y2="1010.9"/>
<line x1="494.92" y1="993.5" x2="494.92" y2="1000.9"/>
<line x1="543.50" y1="993.5" x2="543.50" y2="1010.9"/>
<line x1="592.08" y1="993.5" x2="592.08" y2="1000.9"/>
<line x1="640.67" y1="993.5" x2="640.67" y2="1010.9"/>
<line x1="689.25" y1="993.5" x2="689.25" y2="1000.9"/>
<line x1="737.83" y1="993.5" x2="737.83" y2="1010.9"/>
<line x1="786.42" y1="993.5" x2="786.42" y2="1000.9"/>
<line x1="835.00" y1="993.5" x2="835.00" y2="1010.9"/>
<line x1="883.58" y1="993.5" x2="883.58" y2="1000.9"/>
<line x1="932.17" y1="993.5" x2="932.17" y2="1010.9"/>
<line x1="980.75" y1="993.5" x2="980.75" y2="1000.9"/>
<line x1="1029.33" y1="993.5" x2="1029.33" y2="1010.9"/>
<line x1="1077.92" y1="993.5" x2="1077.92" y2="1000.9"/>
<line x1="1126.50" y1="993.5" x2="1126.50" y2="1010.9"/>
<line x1="1175.08" y1="993.5" x2="1175.08" y2="1000.9"/>
<line x1="1223.67" y1="993.5" x2="1223.67" y2="1010.9"/>
<line x1="1272.25" y1="993.5" x2="1272.25" y2="1000.9"/>
<line x1="1320.83" y1="993.5" x2="1320.83" y2="1010.9"/>
<line x1="1369.42" y1="993.5" x2="1369.42" y2="1000.9"/>
<line x1="1418.00" y1="993.5" x2="1418.00" y2="1010.9"/>
<line x1="250.5" y1="991.50" x2="233" y2="991.50"/>
<line x1="250.5" y1="912.88" x2="243" y2="912.88"/>
<line x1="250.5" y1="834.25" x2="233" y2="834.25"/>
<line x1="250.5" y1="755.62" x2="243" y2="755.62"/>
<line x1="250.5" y1="677.00" x2="233" y2="677.00"/>
<line x1="250.5" y1="598.38" x2="243" y2="598.38"/>
<line x1="250.5" y1="519.75" x2="233" y2="519.75"/>
<line x1="250.5" y1="441.12" x2="243" y2="441.12"/>
<line x1="250.5" y1="362.50" x2="233" y2="362.50"/>
<line x1="250.5" y1="283.88" x2="243" y2="283.88"/>
<line x1="250.5" y1="205.25" x2="233" y2="205.25"/>
<line x1="250.5" y1="126.62" x2="243" y2="126.62"/>
<line x1="250.5" y1="48.00" x2="233" y2="48.00"/>
</g></g>
<g font-family="&quot;Liberation Sans&quot;, sans-serif" font-weight="bold" font-size="61.5" fill="#000">
<text transform="translate(252.8,1068) scale(0.907,1)" text-anchor="middle">-12</text>
<text transform="translate(350.0,1068) scale(0.907,1)" text-anchor="middle">-10</text>
<text transform="translate(447.1,1068) scale(0.907,1)" text-anchor="middle">-8</text>
<text transform="translate(544.3,1068) scale(0.907,1)" text-anchor="middle">-6</text>
<text transform="translate(641.5,1068) scale(0.907,1)" text-anchor="middle">-4</text>
<text transform="translate(738.6,1068) scale(0.907,1)" text-anchor="middle">-2</text>
<text transform="translate(835.8,1068) scale(0.907,1)" text-anchor="middle">0</text>
<text transform="translate(933.0,1068) scale(0.907,1)" text-anchor="middle">2</text>
<text transform="translate(1030.1,1068) scale(0.907,1)" text-anchor="middle">4</text>
<text transform="translate(1127.3,1068) scale(0.907,1)" text-anchor="middle">6</text>
<text transform="translate(1224.5,1068) scale(0.907,1)" text-anchor="middle">8</text>
<text transform="translate(1321.6,1068) scale(0.907,1)" text-anchor="middle">10</text>
<text transform="translate(1418.8,1068) scale(0.907,1)" text-anchor="middle">12</text>
<text transform="translate(221,1008.5) scale(0.907,1)" text-anchor="end">-150</text>
<text transform="translate(221,851.2) scale(0.907,1)" text-anchor="end">-100</text>
<text transform="translate(221,694.0) scale(0.907,1)" text-anchor="end">-50</text>
<text transform="translate(221,536.8) scale(0.907,1)" text-anchor="end">0</text>
<text transform="translate(221,379.5) scale(0.907,1)" text-anchor="end">50</text>
<text transform="translate(221,222.2) scale(0.907,1)" text-anchor="end">100</text>
<text transform="translate(221,65.0) scale(0.907,1)" text-anchor="end">150</text>
</g>
<text id="xtitle" transform="translate(835.4,1155.5) scale(0.967,1)" text-anchor="middle" font-family="&quot;Liberation Sans&quot;, sans-serif" font-weight="bold" font-size="76.5" fill="#000">Magnetic Field, kOe</text>
<text id="ytitle" transform="translate(67.3,528.2) rotate(-90) scale(0.962,1)" text-anchor="middle" font-family="&quot;Liberation Sans&quot;, sans-serif" font-weight="bold" font-size="77" fill="#000">Magnetization, emu/g</text>
<text transform="translate(1350,97.9) scale(1.0,1)" text-anchor="middle" font-family="&quot;Liberation Serif&quot;, serif" font-size="51" fill="#8b0000">(a)</text>
<text transform="translate(1381.3,155.2) scale(1.0,1)" text-anchor="middle" font-family="&quot;Liberation Serif&quot;, serif" font-size="51" fill="#000">(b)</text>
<text transform="translate(1376.6,223.5) scale(1.0,1)" text-anchor="middle" font-family="&quot;Liberation Serif&quot;, serif" font-size="51" fill="#0033ff">(c)</text>
<text transform="translate(1369.7,324.2) scale(1.07,1)" text-anchor="middle" font-family="&quot;Liberation Serif&quot;, serif" font-size="51" fill="#808000">(d)</text>
<text transform="translate(1369.2,446.9) scale(1.0,1)" text-anchor="middle" font-family="&quot;Liberation Serif&quot;, serif" font-size="51" fill="#ff33aa">(e)</text>
</svg>
</body></html>
